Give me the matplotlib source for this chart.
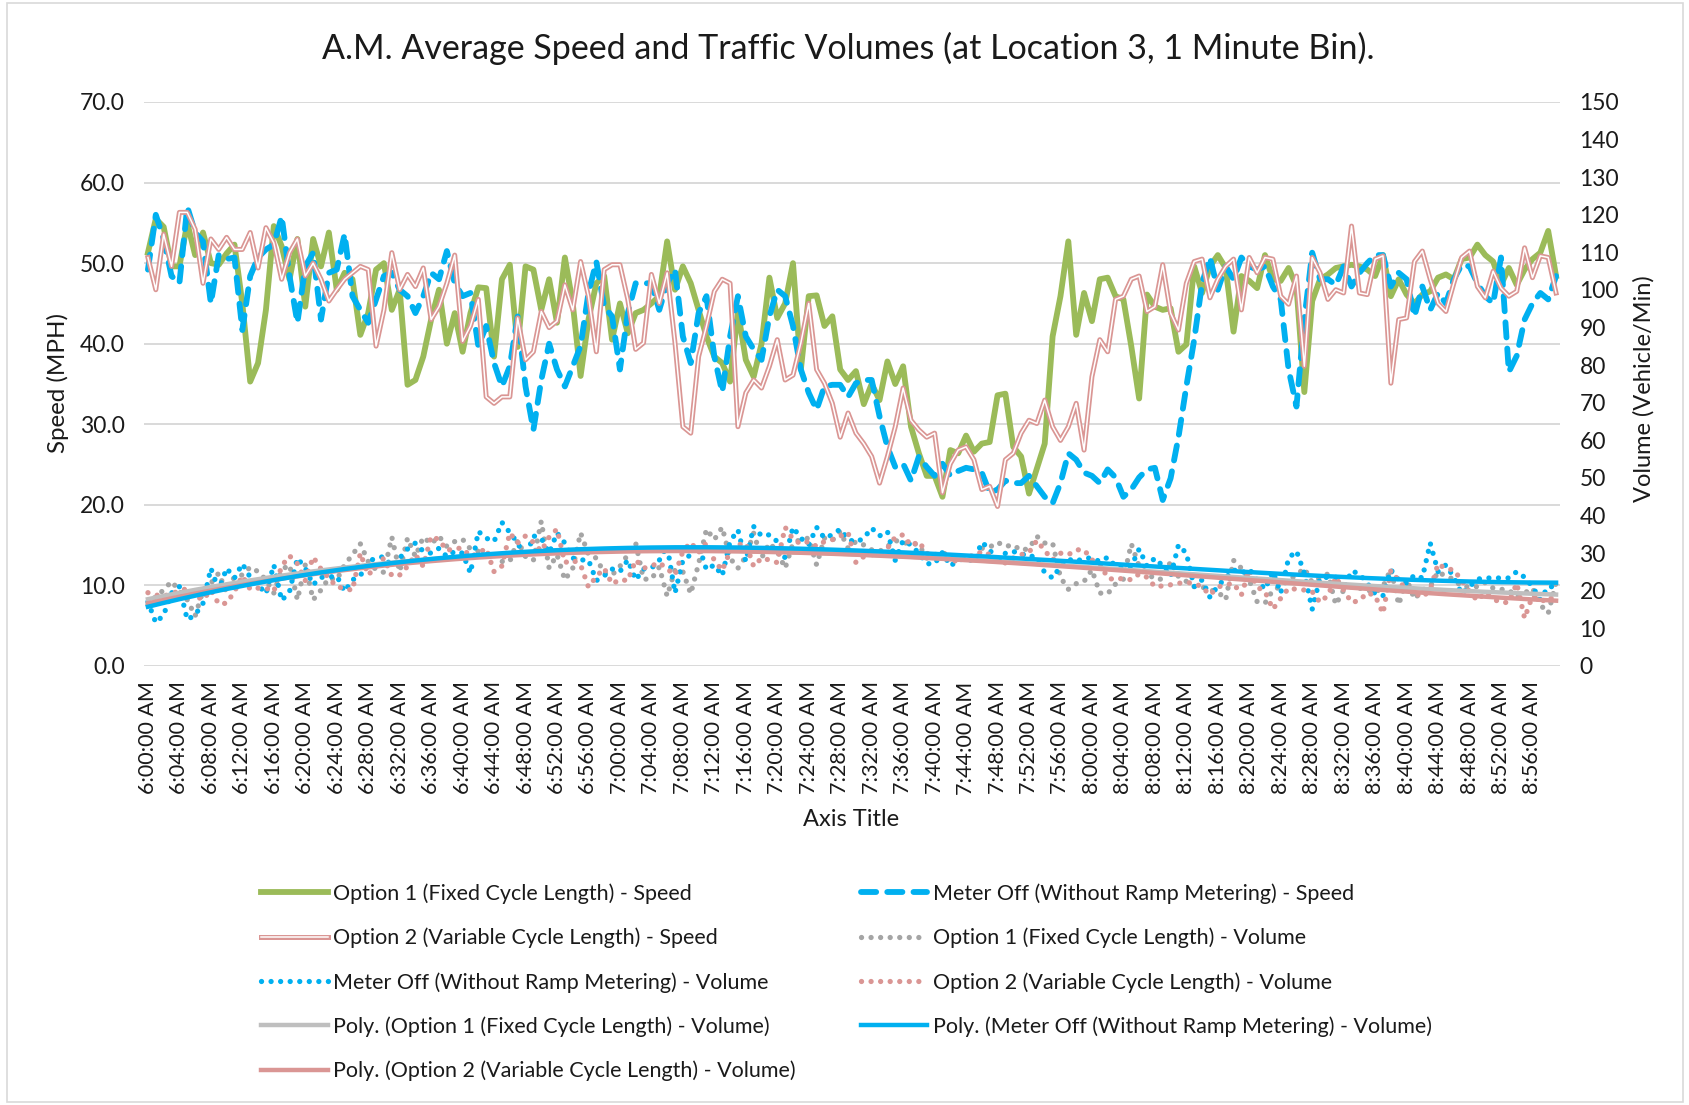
import numpy as np
import matplotlib
matplotlib.use("Agg")
import matplotlib.pyplot as plt
import matplotlib.patheffects as pe
from matplotlib.patches import Rectangle

plt.rcParams['font.family'] = ['Lato', 'DejaVu Sans']

# ---------------- data ----------------
minutes = list(range(180))
categories = [f"{6 + m // 60}:{m % 60:02d}:00 AM" for m in minutes]

opt1_speed = [51.3, 55.5, 54.5, 49.6, 49.6, 55, 51, 53.8, 50, 49.8, 51.2, 52.3, 45, 35.3, 37.6, 44.2, 54.6, 52.1, 48, 53,
              44.6, 53, 49.6, 53.8, 46.7, 48.8, 48, 41.1, 43.8, 49.2,
              50, 44.2, 46.7, 34.9, 35.5, 38.4, 43, 46.7, 40, 43.8, 39, 43.8, 47, 46.9, 38.4, 48, 49.8, 39.6, 49.6, 49.2,
              44.2, 48, 42.6, 50.7, 45, 36, 43, 47.5, 48.4, 40.5, 45,
              41.3, 43.8, 44.2, 45, 45.9, 52.7, 46.7, 49.6, 47.5, 44.2, 40.9, 38.4, 37.6, 35.3, 44, 38, 35.9, 40, 48.2,
              43.2, 45, 50, 36.8, 45.9, 46, 42.2, 43.4, 36.8, 35.5, 36.6,
              32.5, 35, 33, 37.8, 35, 37.2, 29.7, 26.4, 23.6, 23.6, 21, 26.8, 26.4, 28.6, 26.6, 27.6, 27.8, 33.6, 33.8,
              27.2, 26, 21.4, 24.5, 27.6, 40.9, 45.9, 52.7, 41.1, 46.3, 42.8, 48,
              48.2, 45.9, 45.5, 39.7, 33.2, 46.1, 44.6, 44.2, 44.4, 39, 39.9, 49.6, 46.3, 49.6, 51, 49.4, 41.5, 48.4,
              47.8, 46.9, 51, 48, 47.8, 49.4, 47.1, 34, 45.3, 48, 48.6, 49.4,
              49.6, 49.8, 49.6, 49.2, 48.4, 51, 45.9, 48, 46.1, 45, 46.1, 46.5, 48.2, 48.6, 48, 50.5, 50.7, 52.3, 51,
              50.2, 47.3, 49.4, 47.3, 49.2, 50.5, 51.3, 54, 48.4]

meteroff_speed = [49.2, 56, 53, 48.4, 47.5, 57, 53.8, 52.7, 45, 51, 50.5, 50.7, 41.7, 48.4, 50.7, 51.7, 52.3, 55.8, 48.4,
                  42.6, 49.6, 51.3, 43, 48.8, 49.2, 53.6, 45.9, 44.2, 42.6, 45.5,
                  48.4, 48.8, 46.7, 45.9, 43.8, 45.9, 48.8, 48, 51.5, 47.5, 45.9, 46.3, 39.7, 42.2, 37.6, 34.7, 37.2,
                  43.4, 34.7, 29.3, 35.5, 40, 36.8, 34.7, 37.2, 39.7, 46.3, 50.2, 44.6, 43.4, 36.8,
                  43.8, 47.5, 47.5, 47.5, 44.2, 47.5, 49.2, 40.9, 37.6, 43.8, 45.9, 38.4, 34, 40.9, 45.9, 40.9, 39.3,
                  38, 43.4, 46.7, 45.9, 42.2, 36.8, 33.9, 31.8, 34.7, 34.9, 34.9, 33.4, 35.1,
                  35.5, 35.5, 31, 27.2, 24.7, 25.1, 23, 26, 24.7, 23.6, 25.1, 23.6, 24.2, 24.6, 24.4, 24, 21.5, 21.9,
                  23, 22.7, 22.7, 23.6, 22.3, 21, 20.2, 22.7, 26.4, 25.6, 24, 23.6, 22.7,
                  24.4, 23.4, 21, 21.9, 23.4, 24.4, 24.6, 20.6, 23.3, 28.4, 34.7, 40.5, 47.5, 50.7, 46.7, 49.6, 48,
                  50.7, 49.6, 49.2, 49.6, 47.1, 45.5, 36.8, 32.2, 43, 51.3, 48, 48, 47.3,
                  49.6, 47.1, 48.8, 50, 51, 51, 47.1, 48.8, 48, 43.4, 47.1, 44.2, 46.3, 45, 48, 49.8, 49.6, 47.5, 45.9,
                  45, 50.7, 36.5, 38.5, 43, 45, 46.3, 45.5, 48.4]

opt2_speed = [50.7, 46.7, 53.6, 49.6, 56.3, 56.3, 54.2, 47.5, 53, 51.7, 53.2, 51.7, 51.7, 53.8, 49.4, 54.4, 52.5, 48,
              51.3, 53, 48.4, 50, 48, 45.3, 46.7, 48, 48.8, 49.6, 49.2, 39.7,
              44.2, 51.3, 46.7, 48.6, 47.1, 49.4, 43, 44.6, 47.5, 51, 40.3, 42.2, 45.5, 33.4, 32.6, 33.4, 33.4, 43.2,
              38, 39, 44, 42, 42.8, 47.3, 44.2, 50.2, 45.9, 39, 49.2, 49.8, 49.8,
              45.5, 39.3, 40.1, 48.6, 45, 48.8, 40.1, 29.7, 28.9, 38.4, 42.2, 46.5, 48, 47.5, 29.7, 33.9, 35.5, 34.5,
              37.2, 40.5, 35.5, 36.1, 40.1, 45, 36.8, 35.1, 32.6, 28.4, 31.4, 28.9,
              27.6, 26, 22.7, 26, 29.7, 34.5, 30.5, 29.3, 28.4, 28.9, 21.5, 25.1, 26.8, 27.2, 25.6, 21.9, 22.3, 19.8,
              25.6, 26.4, 28.9, 30.5, 30.1, 33, 29.7, 28, 29.7, 32.6, 26.8, 35.9, 40.5,
              39, 45.5, 45.9, 48, 48.4, 44, 44.6, 49.8, 43.8, 41.7, 47.5, 50.2, 50.5, 45.7, 48, 49.6, 50.5, 44.2,
              50.7, 48.8, 50.7, 50.5, 45.9, 44.9, 48.4, 37.2, 50.7, 48.8, 45.5, 46.7,
              46.3, 54.6, 46.3, 46.1, 50.5, 50.9, 35.1, 43, 43.2, 50.2, 51.5, 48, 45, 44, 47.5, 50.7, 51.5, 47.1,
              45.7, 49, 46.9, 45.9, 46.5, 51.9, 48.2, 50.9, 50.7, 46.3]

opt1_volume = [16.3, 18.5, 20.2, 22.5, 20, 17.6, 13.3, 20, 22, 24.7, 19.5, 23.8, 24.2, 26.3, 25.1, 22.9, 19.4, 25.6,
               26.9, 17.6, 26.9, 17.6, 20.2, 23.4, 22.9, 26.9, 29.6, 32.5, 27.8, 25.6, 24.9, 34.3, 25.1, 34, 29.1,
               34.3, 32.5, 34.5, 31.8, 33.1, 33.7, 31.1, 30.5, 29.1, 29.6, 27.8, 27.8, 33.4, 29.1, 28.1, 38.5, 26,
               29.6, 22.9, 26, 35.4, 29.6, 28.7, 24.7, 24.2, 26.5,
               29.6, 32.7, 23.1, 23.1, 26.3, 18.6, 25.6, 25.1, 19.2, 27.2, 36.4, 33.6, 36.9, 28.7, 26, 29.1, 35.3,
               28.7, 32.7, 30.5, 26, 32.7, 33.7, 34, 26.9, 34, 33.4, 35.8, 31.3, 33.1, 32.2, 30.9, 30.5, 31.8, 33.4,
               32.7, 32.7, 32.2, 28.7, 29.6, 30.2, 29.1, 28.1, 28.7, 27.8, 31.3, 31.6, 32.9, 31.8, 32.2, 30.7, 31.3,
               34.5, 32.7, 32.7, 23.6, 20.4, 21.9, 22.5, 25.6, 19.4,
               19.2, 21.8, 23.1, 32.5, 26.5, 24.7, 23.1, 23.1, 27.8, 23.8, 22.5, 21.1, 21, 20.2, 19.8, 17.6, 28.1, 26,
               22.9, 17.1, 16.7, 20.2, 21.1, 22.9, 24.2, 26, 22.2, 23.4, 24.5, 16.3, 20.2, 21.1, 20.7, 20.2, 19.5,
               21.1, 25.8, 16.3, 23.1, 17.8, 20.2, 21.1, 25.1, 23.8, 23.1, 21.1, 21.1, 21.1, 22.2, 20.7, 20.4, 20.2,
               18.3, 19.4, 20.7, 16.3, 14, 22.2]

meteroff_volume = [17.1, 11.5, 13.6, 19.4, 21.1, 12.3, 13.6, 16.7, 26, 20.2, 26, 23.4, 27.2, 23.6, 21.6, 19.2, 26.9,
                   17.4, 19.8, 28.7, 26, 21.6, 23.6, 23.6, 24, 19.8, 22.9, 24, 27.8, 28.7, 29.1, 26.5, 28.7, 31.1,
                   32.7, 30.5, 30, 31.3, 29.1, 30.5, 30, 24.7, 35.8, 34, 33.1, 38.2, 35.5, 32.7, 28.7, 34.6, 34, 30,
                   35.4, 32.7, 28.7, 28.2, 28.2, 22.7, 24, 25.8, 25.1,
                   28.2, 22.9, 25.8, 26, 28.1, 32, 19.4, 28.1, 29.6, 32.2, 25.6, 26.9, 24, 33.1, 36.2, 27.8, 37.1,
                   34.6, 34.9, 33.1, 28.7, 36.9, 34, 32.2, 36.9, 34, 34.9, 36.4, 33.7, 32.9, 34, 36.7, 34.6, 35.8,
                   28.1, 33.4, 32.2, 30, 27.2, 27.2, 30.2, 26.6, 28.1, 28.7, 27.8, 32.9, 31.1, 26.9, 30, 30.5, 29.6,
                   29.8, 28.2, 24.9, 23.4, 26.5, 28.4, 27.8, 28.7, 28.7, 27.8,
                   28.9, 26.5, 26, 26.5, 31.1, 26.6, 28.7, 26.6, 23.8, 32.2, 30, 21.1, 22.9, 18.3, 21.3, 23.4, 25.6,
                   24.7, 25.8, 22.9, 20.4, 25.1, 19.4, 28.7, 30.6, 24.7, 15.1, 23.4, 23.6, 23.6, 20.4, 25.3, 24.5, 22,
                   19.2, 18.7, 25.6, 22.9, 22, 24.2, 23.4, 32.7, 25.1, 26.9, 23.6, 19.2, 21.1, 23.1, 23.4, 23.4, 23.4,
                   23.4, 25.1, 23.6, 21.1, 17.6, 21.1, 21.1]

opt2_volume = [19.5, 18.9, 18.5, 19.4, 19.8, 20.7, 18.7, 17.6, 20.2, 16.5, 16.7, 19.8, 24, 20.4, 20.7, 20.7, 19.8, 26.6,
               29.3, 27.2, 22.7, 29, 25.8, 23.4, 21, 20.7, 20.1, 30, 24.2, 26.5, 28.7, 24, 24.2, 26.5, 29.6, 26.5,
               34.5, 33.6, 30.7, 31.3, 31.3, 29.1, 30, 31.3, 25.1, 26.6, 35.4, 32.7, 34.6, 32.9, 30.5, 34.3, 36.4,
               27.5, 28.2, 26.9, 21, 23.8, 26, 21.8, 23,
               22.7, 28.2, 26, 26.6, 27.5, 25.8, 24.2, 30.5, 32.9, 30.2, 32.7, 28.1, 25.4, 30.5, 32.2, 32.7, 26.5,
               28.7, 28.2, 27.5, 36.9, 33.7, 32.5, 33.1, 31.8, 33.1, 33.6, 34.5, 35.5, 27.5, 29.1, 29.6, 29.6, 31.3,
               34.3, 34.9, 32, 33.1, 30, 29.1, 28.7, 28.2, 27.8, 29.6, 29.1, 30.5, 29.6, 28.2, 27.4, 28.7, 29.6,
               30.2, 33.4, 30.7, 28.2, 30, 29.6, 30.9, 30.9, 28.2, 27.4,
               23.4, 22.9, 23.4, 22.9, 24.5, 23.6, 21.1, 21.3, 21.6, 22, 22.2, 22, 21, 18.9, 21, 21.6, 22, 18.9, 25.6,
               21, 19.8, 15.1, 18, 20.7, 20.4, 20.2, 19.8, 16.9, 18.8, 23.6, 20.2, 16.9, 17.4, 19.5, 18.7, 14, 25.4,
               22.7, 20.2, 19.4, 18.3, 20.2, 27.2, 25.8, 25.6, 22.7, 19.8, 17.4, 19.5, 17.8, 16.9, 16.9, 22, 12.7,
               18.7, 17.6, 17.1, 19.5]

speed_ticks = [0, 10, 20, 30, 40, 50, 60, 70]
volume_ticks = list(range(0, 151, 10))

# ---------------- style ----------------
GREEN = '#9BBB59'
BLUE = '#00B0F0'
PINK = '#DA9694'
GRAY = '#A5A5A5'
GRAYTREND = '#BFBFBF'
GRID = '#D9D9D9'
TXT = '#1A1A1A'

W, H = 1690, 1105
fig = plt.figure(figsize=(W / 100, H / 100), dpi=100)
fig.patch.set_facecolor('white')
fig.add_artist(Rectangle((0.004, 0.003), 0.992, 0.994, transform=fig.transFigure,
                         fill=False, edgecolor=GRID, lw=1.2))

left, right, top, bottom = 144, 1560, 102, 666
ax = fig.add_axes([left / W, 1 - bottom / H, (right - left) / W, (bottom - top) / H])
ax2 = ax.twinx()

x = np.arange(len(categories))

l_opt1, = ax.plot(x, opt1_speed, color=GREEN, lw=4.2, solid_joinstyle='round', zorder=3)
l_met, = ax.plot(x, meteroff_speed, color=BLUE, lw=4.2, linestyle=(0, (2.6, 1.9)),
                 dash_capstyle='round', zorder=4)
l_opt2, = ax.plot(x, opt2_speed, color='white', lw=1.1, zorder=5,
                  path_effects=[pe.Stroke(linewidth=3.6, foreground=PINK), pe.Normal()])

dot_style = dict(lw=3.8, linestyle=(0, (0.01, 1.8)), dash_capstyle='round')
v_opt1, = ax2.plot(x, opt1_volume, color=GRAY, zorder=2, **dot_style)
v_met, = ax2.plot(x, meteroff_volume, color=BLUE, zorder=2, **dot_style)
v_opt2, = ax2.plot(x, opt2_volume, color=PINK, zorder=2, **dot_style)

def trend(vals):
    c = np.polyfit(x, vals, 3)
    return np.polyval(c, x)

t_opt1, = ax2.plot(x, trend(opt1_volume), color=GRAYTREND, lw=3.2, zorder=3)
t_opt2, = ax2.plot(x, trend(opt2_volume), color=PINK, lw=3.2, zorder=3)
t_met, = ax2.plot(x, trend(meteroff_volume), color=BLUE, lw=3.2, zorder=4)

ax.set_xlim(-0.5, len(categories) - 0.5)
ax.set_ylim(0, 70)
ax2.set_ylim(0, 150)
ax.set_yticks(speed_ticks)
ax.set_yticklabels([f"{v:.1f}" for v in speed_ticks])
ax2.set_yticks(volume_ticks)
ax2.set_yticklabels([str(v) for v in volume_ticks])
ax.set_xticks(x[::4])
ax.set_xticklabels(categories[::4], rotation=90)

for a in (ax, ax2):
    for s in a.spines.values():
        s.set_visible(False)
    a.tick_params(length=0, labelsize=16.5, colors=TXT)
ax.tick_params(axis='y', pad=14)
ax2.tick_params(axis='y', pad=14)
ax.tick_params(axis='x', pad=11, labelsize=15.5)
ax.yaxis.grid(True, color=GRID, lw=1.4)
ax.set_axisbelow(True)

fig.text(848 / W, 1 - 48 / H, "A.M. Average Speed and Traffic Volumes (at Location 3, 1 Minute Bin).",
         ha='center', va='center', fontsize=24.5, color=TXT)
fig.text(58 / W, 1 - 383 / H, "Speed (MPH)", rotation=90, ha='center', va='center', fontsize=17.4, color=TXT)
fig.text(1644 / W, 1 - 389 / H, "Volume (Vehicle/Min)", rotation=90, ha='center', va='center',
         fontsize=17, color=TXT)
fig.text(851 / W, 1 - 820 / H, "Axis Title", ha='center', va='center', fontsize=17, color=TXT)

handles = [l_opt1, l_opt2, v_met, t_opt1, t_opt2, l_met, v_opt1, v_opt2, t_met]
labels = ["Option 1 (Fixed Cycle Length) - Speed",
          "Option 2 (Variable Cycle Length) - Speed",
          "Meter Off (Without Ramp Metering) - Volume",
          "Poly. (Option 1 (Fixed Cycle Length) - Volume)",
          "Poly. (Option 2 (Variable Cycle Length) - Volume)",
          "Meter Off (Without Ramp Metering) - Speed",
          "Option 1 (Fixed Cycle Length) - Volume",
          "Option 2 (Variable Cycle Length) - Volume",
          "Poly. (Meter Off (Without Ramp Metering) - Volume)"]
leg = fig.legend(handles, labels, loc='upper left', bbox_to_anchor=(242 / W, 1 - 864 / H),
                 ncol=2, frameon=False, fontsize=15.5, handlelength=3.1, handletextpad=0.25,
                 labelspacing=1.1, columnspacing=3.0, labelcolor=TXT)

fig.savefig("out.png", dpi=100, facecolor='white')
